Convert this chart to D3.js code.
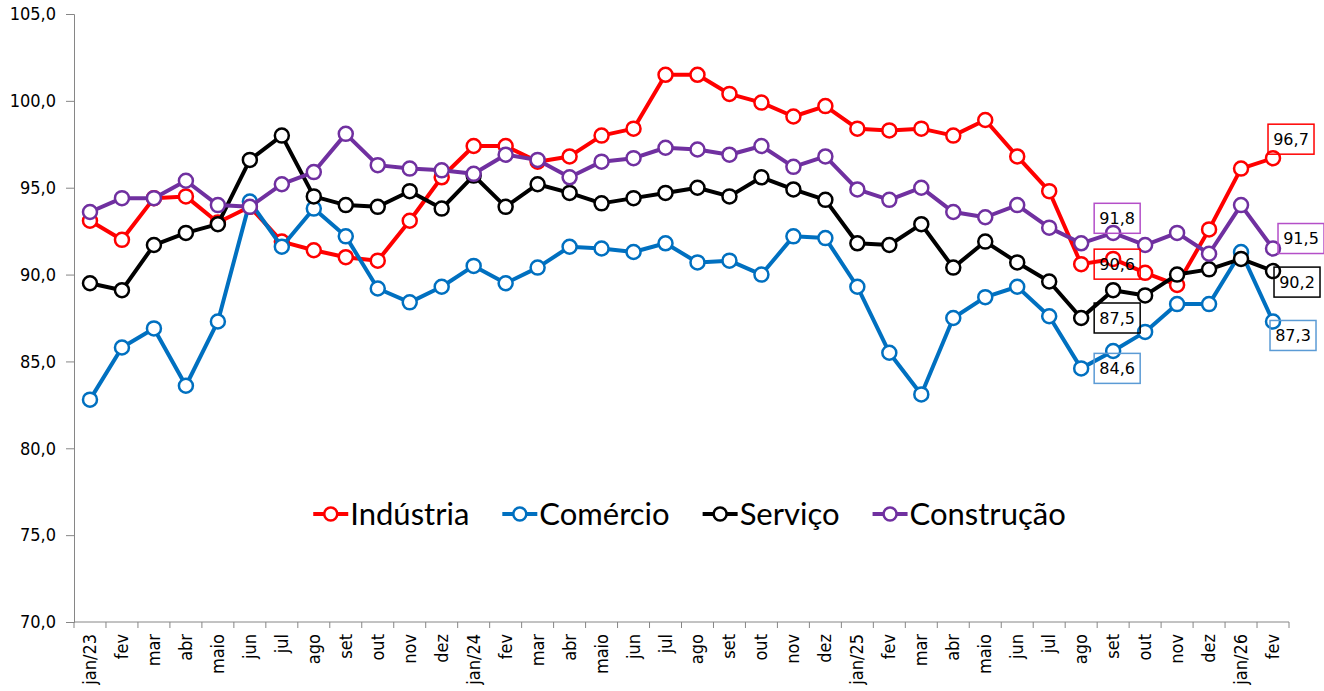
<!DOCTYPE html>
<html>
<head>
<meta charset="utf-8">
<script src="https://cdn.jsdelivr.net/npm/d3@7"></script>
<style>
  html, body { margin: 0; padding: 0; background: #fff; }
  svg { display: block; }
</style>
</head>
<body>
<div id="chart"></div>
<script>
const months = ["jan/23","fev","mar","abr","maio","jun","jul","ago","set","out","nov","dez",
  "jan/24","fev","mar","abr","maio","jun","jul","ago","set","out","nov","dez",
  "jan/25","fev","mar","abr","maio","jun","jul","ago","set","out","nov","dez",
  "jan/26","fev"];

const industria = [93.1,92.0,94.4,94.5,93.0,93.9,91.9,91.4,91.0,90.8,93.1,95.6,
  97.4,97.4,96.5,96.8,98.0,98.4,101.5,101.5,100.4,99.9,99.1,99.7,
  98.4,98.3,98.4,98.0,98.9,96.8,94.8,90.6,90.9,90.1,89.4,92.6,
  96.1,96.7];
const comercio = [82.8,85.8,86.9,83.6,87.3,94.2,91.6,93.8,92.2,89.2,88.4,89.3,
  90.5,89.5,90.4,91.6,91.5,91.3,91.8,90.7,90.8,90.0,92.2,92.1,
  89.3,85.5,83.1,87.5,88.7,89.3,87.6,84.6,85.6,86.7,88.3,88.3,
  91.3,87.3];
const servico = [89.5,89.1,91.7,92.4,92.9,96.6,98.0,94.5,94.0,93.9,94.8,93.8,
  95.7,93.9,95.2,94.7,94.1,94.4,94.7,95.0,94.5,95.6,94.9,94.3,
  91.8,91.7,92.9,90.4,91.9,90.7,89.6,87.5,89.1,88.8,90.0,90.3,
  90.9,90.2];
const construcao = [93.6,94.4,94.4,95.4,94.0,93.9,95.2,95.9,98.1,96.3,96.1,96.0,
  95.8,96.9,96.6,95.6,96.5,96.7,97.3,97.2,96.9,97.4,96.2,96.8,
  94.9,94.3,95.0,93.6,93.3,94.0,92.7,91.8,92.4,91.7,92.4,91.2,
  94.0,91.5];

const seriesNames = ["Indústria","Comércio","Serviço","Construção"];
const yTicks = [70,75,80,85,90,95,100,105];

// indices of labelled points: ago/25 and fev/26
const labelIdx = [31, 37];

(function () {
const series = [
  {name: seriesNames[0], values: industria, color: "#FF0000", box: "#FF0000"},
  {name: seriesNames[1], values: comercio, color: "#0070C0", box: "#5B9BD5"},
  {name: seriesNames[2], values: servico, color: "#000000", box: "#000000"},
  {name: seriesNames[3], values: construcao, color: "#7030A0", box: "#B44FC8"}
];

const W = 1324, H = 691;
const mL = 74, mR = 1289, mT = 14, mB = 622;

const svg = d3.select("#chart").append("svg").attr("width", W).attr("height", H)
  .style("background", "#fff");

const x = d3.scaleBand().domain(d3.range(months.length)).range([mL, mR]).padding(0);
const y = d3.scaleLinear().domain([70, 105]).range([mB, mT]);
const cx = i => x(i) + x.bandwidth() / 2;
const fmt = v => d3.format(".1f")(v).replace(".", ",");

// Y axis
const yAxis = d3.axisLeft(y).tickValues(yTicks).tickFormat(fmt).tickSizeOuter(0).tickSize(8).tickPadding(10);
const gy = svg.append("g").attr("transform", `translate(${mL},0)`).call(yAxis);
gy.selectAll("path, line").attr("stroke", "#868686").attr("stroke-width", 1);
gy.selectAll("text").attr("font-family", "'DejaVu Sans Condensed', 'DejaVu Sans', sans-serif")
  .attr("font-size", 18).attr("fill", "#000");

// X axis: line and ticks at category boundaries
const gx = svg.append("g");
gx.append("line").attr("x1", mL).attr("x2", mR).attr("y1", mB).attr("y2", mB)
  .attr("stroke", "#868686").attr("stroke-width", 1);
gx.selectAll("line.tk").data(d3.range(months.length + 1)).join("line").attr("class", "tk")
  .attr("x1", i => i < months.length ? x(i) : mR)
  .attr("x2", i => i < months.length ? x(i) : mR)
  .attr("y1", mB).attr("y2", mB + 6)
  .attr("stroke", "#868686").attr("stroke-width", 1);
gx.selectAll("text").data(months).join("text")
  .attr("transform", (d, i) => `translate(${cx(i) + 6},${mB + 12}) rotate(-90)`)
  .attr("text-anchor", "end")
  .attr("font-family", "'DejaVu Sans Condensed', 'DejaVu Sans', sans-serif")
  .attr("font-size", 18).attr("fill", "#000")
  .text(d => d);

// Series
const line = d3.line().x((d, i) => cx(i)).y(d => y(d));
series.forEach(s => {
  const g = svg.append("g");
  g.append("path").attr("d", line(s.values)).attr("fill", "none")
    .attr("stroke", s.color).attr("stroke-width", 4).attr("stroke-linejoin", "round");
  g.selectAll("circle").data(s.values).join("circle")
    .attr("cx", (d, i) => cx(i)).attr("cy", d => y(d)).attr("r", 7)
    .attr("fill", "#fff").attr("stroke", s.color).attr("stroke-width", 2.5);
});

// Data labels (offsets relative to point, in px)
const labelOffsets = {
  31: [[13, 0], [13, 0], [13, 0], [13, -25]],
  37: [[-5, -19], [-3, 14], [1, 11], [5, -10]]
};
const gl = svg.append("g");
labelIdx.forEach(idx => {
  series.forEach((s, k) => {
    const [dx, dy] = labelOffsets[idx][k];
    const v = s.values[idx];
    const bx = cx(idx) + dx, by = y(v) + dy;
    const bw = 46, bh = 30;
    gl.append("rect").attr("x", bx).attr("y", by - bh / 2).attr("width", bw).attr("height", bh)
      .attr("fill", "none").attr("stroke", s.box).attr("stroke-width", 1.5);
    gl.append("text").attr("x", bx + bw / 2).attr("y", by).attr("dy", "0.36em")
      .attr("text-anchor", "middle")
      .attr("font-family", "'DejaVu Sans', sans-serif").attr("font-size", 16).attr("fill", "#000")
      .text(fmt(v));
  });
});

// Legend
const legend = svg.append("g");
let lx = 0;
series.forEach(s => {
  const g = legend.append("g").attr("transform", `translate(${lx},0)`);
  g.append("line").attr("x1", 0).attr("x2", 35).attr("y1", 0).attr("y2", 0)
    .attr("stroke", s.color).attr("stroke-width", 4);
  g.append("circle").attr("cx", 17.5).attr("cy", 0).attr("r", 6.5)
    .attr("fill", "#fff").attr("stroke", s.color).attr("stroke-width", 2.5);
  const t = g.append("text").attr("x", 37).attr("y", 0).attr("dy", "0.35em")
    .attr("font-family", "Lato, 'Open Sans', sans-serif").attr("font-size", 31).attr("fill", "#000")
    .text(s.name);
  const w = 37 + t.node().getComputedTextLength();
  lx += w + 33;
});
const totalW = lx - 33;
legend.attr("transform", `translate(${689.5 - totalW / 2},514)`);
})();
</script>
</body>
</html>
